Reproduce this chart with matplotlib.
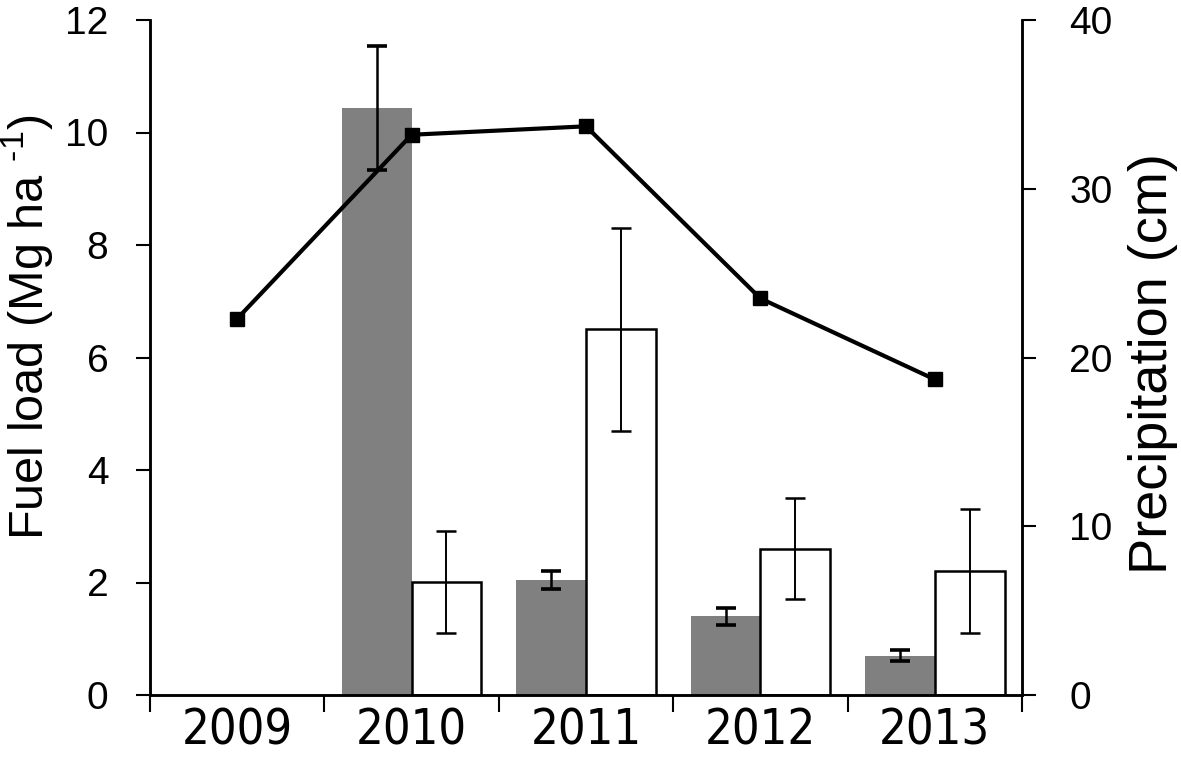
import matplotlib
matplotlib.use("Agg")
import matplotlib.pyplot as plt
import numpy as np

years = ["2009", "2010", "2011", "2012", "2013"]
fuel_gray = [0.0, 10.43, 2.05, 1.40, 0.70]
fuel_gray_err = [0.0, 1.10, 0.16, 0.15, 0.10]
fuel_white = [0.0, 2.01, 6.50, 2.60, 2.20]
fuel_white_err = [0.0, 0.90, 1.80, 0.90, 1.10]
precip = [22.3, 33.2, 33.7, 23.5, 18.7]

plt.rcParams["font.family"] = ["Liberation Sans", "DejaVu Sans"]
plt.rcParams["mathtext.fontset"] = "custom"
plt.rcParams["mathtext.rm"] = "Liberation Sans"

fig = plt.figure(figsize=(11.81, 7.67), dpi=100)
ax = fig.add_axes([150 / 1181, 1 - 695 / 767, 872 / 1181, 675 / 767])
ax2 = ax.twinx()

x = np.arange(len(years))
w = 0.4
has = [i for i in x if fuel_white[i] > 0]
hx = np.array(has)

ax.bar(hx - w / 2, [fuel_gray[i] for i in has], w, color="#808080",
       edgecolor="none", zorder=2)
ax.errorbar(hx - w / 2, [fuel_gray[i] for i in has],
            yerr=[fuel_gray_err[i] for i in has], fmt="none", ecolor="black",
            elinewidth=1.8, capsize=7, capthick=2.6, zorder=3)
ax.bar(hx + w / 2, [fuel_white[i] for i in has], w, color="white",
       edgecolor="black", linewidth=1.8, zorder=2)
ax.errorbar(hx + w / 2, [fuel_white[i] for i in has],
            yerr=[fuel_white_err[i] for i in has], fmt="none", ecolor="black",
            elinewidth=1.4, capsize=7, capthick=1.8, zorder=3)

ax2.plot(x, precip, color="black", linewidth=3.0, marker="s", markersize=10,
         zorder=4)

ax.set_xlim(-0.5, 4.5)
ax.set_ylim(0, 12)
ax2.set_ylim(0, 40)
ax.set_yticks(np.arange(0, 13, 2))
ax2.set_yticks(np.arange(0, 41, 10))

ax.set_xticks(x)
ax.set_xticklabels(years, family="DejaVu Sans", fontstretch="condensed",
                   fontsize=35)
ax.set_xticks(np.arange(-0.5, 5, 1), minor=True)
ax.tick_params(axis="x", which="major", length=0, pad=8)
ax.tick_params(axis="x", which="minor", direction="out", length=12, width=1.5)
ax.tick_params(axis="y", direction="out", length=10, width=1.5, labelsize=28,
               pad=20)
ax2.tick_params(axis="y", direction="out", length=10, width=1.5, labelsize=28,
                pad=24)

for a in (ax, ax2):
    a.spines["top"].set_visible(False)
    for s in ("left", "right", "bottom"):
        a.spines[s].set_linewidth(1.8)

ax.set_ylabel(r"Fuel load (Mg ha $^{\text{-1}}$)", fontsize=35)
ax.yaxis.set_label_coords(-0.109, 0.545)
ax2.set_ylabel("Precipitation (cm)", fontsize=39)
ax2.yaxis.set_label_coords(1.1216, 0.491)

ax.set_zorder(ax2.get_zorder() - 1)
ax.patch.set_visible(True)
ax2.patch.set_visible(False)

fig.savefig("out.png", dpi=100)
